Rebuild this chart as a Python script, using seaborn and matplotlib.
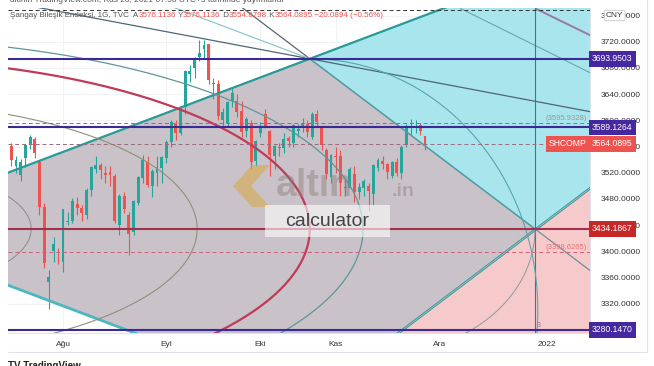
import numpy as np
import pandas as pd
import matplotlib
matplotlib.use("Agg")
import matplotlib.pyplot as plt
import matplotlib.transforms as mtransforms
from matplotlib.lines import Line2D
from matplotlib.patches import Polygon, Rectangle
from matplotlib.offsetbox import TextArea, HPacker, AnchoredOffsetbox
import seaborn as sns

sns.set_theme(style="white", context="paper")
plt.rcParams["font.family"] = ["Liberation Sans", "DejaVu Sans"]

# --- daily candles, 16 Jul 2021 .. 26 Nov 2021 (bar 0 = 2 Aug) ---
bars = list(range(-11, 78))
opens = [3561, 3530, 3516, 3542, 3563, 3571, 3537, 3467, 3353, 3400, 3399,
         3383, 3445, 3446, 3472, 3466, 3456, 3494, 3525, 3532, 3520, 3521,
         3515, 3440, 3484, 3455, 3430, 3474, 3512, 3537, 3499, 3519, 3527,
         3543, 3567, 3595, 3580, 3621, 3671, 3680, 3697, 3709, 3716, 3656,
         3655, 3600, 3596, 3630, 3630, 3614, 3583, 3596, 3538,
         3580, 3610, 3583, 3545, 3560, 3557, 3573, 3566, 3583, 3588, 3595,
         3575, 3610, 3590, 3555, 3513,
         3545, 3545, 3497, 3497, 3518, 3490, 3496, 3500, 3488, 3527, 3538,
         3533, 3515, 3536, 3520, 3562, 3588, 3590, 3593, 3576.11]
highs = [3566, 3546, 3541, 3564, 3577, 3575, 3540, 3474, 3371, 3422, 3405,
         3465, 3460, 3481, 3483, 3470, 3496, 3530, 3545, 3535, 3530, 3530,
         3518, 3487, 3490, 3460, 3478, 3515, 3547, 3545, 3525, 3545, 3545,
         3570, 3600, 3600, 3622, 3677, 3685, 3697, 3722, 3723, 3717, 3665,
         3662, 3619, 3630, 3650, 3640, 3630, 3605, 3600, 3570,
         3597, 3617, 3585, 3562, 3565, 3580, 3576, 3594, 3595, 3603, 3601,
         3612, 3616, 3592, 3558, 3548,
         3560, 3555, 3510, 3528, 3530, 3505, 3510, 3505, 3534, 3542, 3545,
         3535, 3538, 3542, 3562, 3595, 3602, 3600, 3596, 3576.11]
lows = [3531, 3520, 3508, 3528, 3556, 3543, 3456, 3374, 3312, 3383, 3380,
        3368, 3440, 3443, 3455, 3447, 3450, 3485, 3520, 3510, 3505, 3500,
        3443, 3425, 3459, 3395, 3425, 3470, 3505, 3498, 3483, 3500, 3505,
        3535, 3560, 3570, 3578, 3610, 3658, 3665, 3690, 3695, 3655, 3633,
        3600, 3590, 3590, 3620, 3605, 3575, 3575, 3525, 3530,
        3575, 3588, 3515, 3525, 3545, 3550, 3560, 3560, 3575, 3582, 3575,
        3572, 3592, 3555, 3510, 3505,
        3520, 3485, 3485, 3497, 3475, 3480, 3485, 3462, 3470, 3522, 3525,
        3510, 3512, 3515, 3510, 3560, 3578, 3580, 3578, 3554.88]
closes = [3539, 3539, 3537, 3562, 3574, 3550, 3467, 3382, 3361, 3411, 3397,
          3464, 3447, 3477, 3466, 3458, 3494, 3529, 3532, 3524, 3517, 3517,
          3446, 3485, 3465, 3427, 3477, 3514, 3540, 3501, 3522, 3528, 3544,
          3567, 3597, 3581, 3621, 3676, 3675, 3693, 3703, 3715, 3662, 3656,
          3607, 3613, 3628, 3642, 3613, 3582, 3602, 3537, 3568,
          3592, 3591, 3547, 3561, 3558, 3572, 3568, 3593, 3587, 3594, 3582,
          3609, 3597, 3562, 3518, 3547,
          3544, 3505, 3498, 3526, 3491, 3498, 3507, 3492, 3532, 3539, 3533,
          3521, 3537, 3520, 3560, 3589, 3589, 3592, 3584, 3564.09]

month_labels = ["Ağu", "Eyl", "Eki", "Kas", "Ara", "2022"]
month_bars = [0, 22, 42, 58, 80, 103]
price_ticks = [3320, 3360, 3400, 3440, 3480, 3520, 3560, 3600, 3640, 3680, 3720, 3760]

# horizontal levels drawn on the chart
solid_levels = [3693.9503, 3589.1264, 3434.1867, 3280.1470]
solid_colors = ["#3b2a96", "#3b2a96", "#a3304c", "#3b2a96"]
dashed_levels = [3768.0, 3595.9328, 3563.2794, 3398.6265]
dashed_colors = ["#333333", "#9a6a7c", "#9a6a7c", "#d0607a"]

# gann square corners (bar, price)
v_top = (52.5, 3694.0)
v_right = (100.4, 3434.2)
v_bottom = (52.5, 3174.4)
v_left = (-43.4, 3434.2)

legend_parts = [("Şangay Bileşik Endeksi, 1G, TVC  A", "#555555"),
                ("3576.1136", "#ef5350"), (" Y", "#555555"), ("3576.1136", "#ef5350"),
                (" D", "#555555"), ("3554.8798", "#ef5350"), (" K", "#555555"),
                ("3564.0895", "#ef5350"), (" −20.0894 (−0.56%)", "#ef5350")]

GREEN = "#26a69a"
RED = "#ef5350"

fig = plt.figure(figsize=(6.54, 3.66), dpi=100, facecolor="white")
ax = fig.add_axes([8 / 654, 33 / 366, 582 / 654, 325 / 366])
ax.set_xlim(-11.7, 112.1)
ax.set_ylim(3275.3, 3771.5)
ax.set_facecolor("white")

# grid
for b in month_bars:
    ax.axvline(b, color="#eef0f4", lw=0.6, zorder=0)
for p in price_ticks:
    ax.axhline(p, color="#eef0f4", lw=0.6, zorder=0)

# gann fills
big = 300
up1 = (v_right[1] - v_bottom[1]) / (v_right[0] - v_bottom[0])
up2 = (v_top[1] - v_left[1]) / (v_top[0] - v_left[0])
ax.add_patch(Polygon([v_top, v_right, v_bottom, v_left], closed=True,
                     fc="#c9c2c8", ec="none", zorder=1))
ax.add_patch(Polygon([v_top, (v_top[0] + big, v_top[1] + big * up2),
                      (v_right[0] + big, v_right[1] + big * up1), v_right],
                     closed=True, fc="#a8e5ed", ec="none", zorder=1))
ax.add_patch(Polygon([v_bottom, v_right, (v_right[0] + big, v_right[1] + big * up1),
                      (v_right[0] + big, 2000), (v_bottom[0], 2000)],
                     closed=True, fc="#f6caca", ec="none", zorder=1))

# candles
df = pd.DataFrame({"bar": bars, "open": opens, "high": highs, "low": lows, "close": closes})
cols = np.where(df["close"] >= df["open"], GREEN, RED)
ax.vlines(df["bar"], df["low"], df["high"], colors=cols, lw=0.8, zorder=3)
body_low = df[["open", "close"]].min(axis=1)
body_h = (df["close"] - df["open"]).abs().clip(lower=1.0)
ax.bar(df["bar"], body_h, bottom=body_low, width=0.62, color=cols, lw=0, zorder=3)


def ray(p, slope, x0, x1, **kw):
    xs = np.array([x0, x1])
    ax.plot(xs, p[1] + slope * (xs - p[0]), zorder=4, solid_capstyle="butt", **kw)


# gann lines
ray(v_top, up2, -20, 130, color="#2a9a98", lw=1.6)
ray(v_top, -up1, 20, v_top[0], color="#5d6468", lw=0.9)
ray(v_top, -up1, v_top[0], v_right[0], color="#4f9aa2", lw=1.1)
ray(v_right, -up1, v_right[0], 130, color="#6f8f96", lw=0.9)
ray(v_bottom, up1, 40, 130, color="#3a9da0", lw=0.8)
ray((v_bottom[0], v_bottom[1] - 3), up1, 40, 130, color="#3a9da0", lw=0.8)
ray(v_bottom, -up2, -20, v_bottom[0], color="#4db6c0", lw=2.0)
ray(v_top, -up2 / 2, -20, 130, color="#4f6675", lw=0.9)
ray(v_top, -up2, -20, v_top[0], color="#7fc4c8", lw=0.8)
ray((84.5, 3771.0), -3.56, 84.5, 130, color="#6aa8b0", lw=0.8)
ray((100.4, 3771.0), -3.5, 100.4, 130, color="#9a7aa0", lw=1.4)
ax.axvline(v_right[0], color="#2a7ab0", lw=0.8, zorder=4)

# gann arcs: centre, radii, angle span, colour, width
rx0 = v_top[0] - v_left[0]
ry0 = v_top[1] - v_left[1]
full = (0, 2 * np.pi)
arcs = [(v_left, 0.382 * rx0, 0.382 * ry0, full, "#8c8c8c", 0.7),
        (v_left, 0.75 * rx0, 0.75 * ry0, full, "#8f8f80", 0.8),
        (v_left, rx0, ry0, full, "#c03a5a", 1.6),
        (v_left, 1.118 * rx0, 1.118 * ry0, full, "#5f959b", 0.9),
        ((52.5, 3310.0), 48.5, 384.0, (-np.pi / 2, np.pi / 2), "#5aa5b0", 0.8),
        ((67.4, 3434.2), 33.0, 191.0, (-np.pi / 2, 0), "#8a9a9e", 0.7)]
for c, rx, ry, span, col, lw in arcs:
    t = np.linspace(span[0], span[1], 400)
    ax.plot(c[0] + rx * np.cos(t), c[1] + ry * np.sin(t), color=col, lw=lw, zorder=4)

# horizontal levels
for lv, col in zip(solid_levels, solid_colors):
    ax.axhline(lv, color=col, lw=1.5, zorder=5)
for lv, col in zip(dashed_levels, dashed_colors):
    ax.axhline(lv, color=col, lw=0.7, ls=(0, (4, 3)), zorder=5)

trans = mtransforms.blended_transform_factory(ax.transAxes, ax.transData)
for lv, txt, col in [(3595.9328, "(3595.9328)", "#9a9a9a"),
                     (3563.2794, "(3563.2794)", "#9a9a9a"),
                     (3398.6265, "(3398.6265)", "#e57373")]:
    ax.text(1 - 3 / 582, lv + 2, txt, transform=trans, ha="right", va="bottom",
            fontsize=5.5, color=col, zorder=6)
ax.text(100.8, 3284, "3", fontsize=5, color="#8a7fa8", zorder=6)

# axes
ax.yaxis.tick_right()
ax.set_yticks(price_ticks)
ax.set_yticklabels([f"{p:.4f}" for p in price_ticks])
ax.set_xticks(month_bars)
ax.set_xticklabels(month_labels)
ax.tick_params(axis="y", length=0, pad=8, labelsize=6, labelcolor="#333333")
ax.tick_params(axis="x", length=0, pad=5.5, labelsize=6, labelcolor="#333333")
for s in ["left", "top"]:
    ax.spines[s].set_visible(False)
for s in ["right", "bottom"]:
    ax.spines[s].set_color("#e0e3eb")
    ax.spines[s].set_linewidth(0.8)
fig.add_artist(Line2D([8 / 654, 647 / 654], [1 - 352 / 366] * 2, color="#e0e3eb", lw=0.8))
fig.add_artist(Line2D([647 / 654] * 2, [1 - 352 / 366, 1], color="#e0e3eb", lw=0.8))


def tag(value, txt, fc, x=1 + 2 / 582, ha="left"):
    ax.text(x, value, txt, transform=trans, ha=ha, va="center", fontsize=6.2,
            color="white", zorder=8, clip_on=False,
            bbox=dict(boxstyle="square,pad=0.4", fc=fc, ec="none"))


tag(3693.9503, "3693.9503", "#4527a0")
tag(3589.1264, "3589.1264", "#4527a0")
tag(3280.1470, "3280.1470", "#4527a0")
tag(3434.1867, "3434.1867", "#c62828")
tag(3564.0895, "3564.0895", RED)
tag(3564.0895, "SHCOMP", RED, x=1 - 3 / 582, ha="right")
ax.text(1 + 16 / 582, 3760, "CNY", transform=trans, ha="left", va="center", fontsize=6,
        color="#333333", zorder=8, clip_on=False,
        bbox=dict(boxstyle="round,pad=0.2", fc="white", ec="#c8c8c8", lw=0.6))

# legend line
parts = [TextArea(s, textprops=dict(color=c, fontsize=5.8)) for s, c in legend_parts]
box = AnchoredOffsetbox(loc="upper left", child=HPacker(children=parts, sep=0, pad=0),
                        bbox_to_anchor=(10 / 654, 1 - 12 / 366), bbox_transform=fig.transFigure,
                        frameon=False, pad=0, borderpad=0)
box.set_zorder(9)
ax.add_artist(box)

fig.text(10 / 654, 1 - 1 / 366, "altinin TradingView.com, Kas 26, 2021 07:56 UTC+3 tarihinde yayımlandı",
         fontsize=6, color="#555555", va="center")
fig.text(8 / 654, 1 - 366 / 366, "TV TradingView", fontsize=7, color="#222222", va="center",
         weight="bold")

# watermark
fig.add_artist(Polygon([(270 / 654, 1 - 165 / 366), (252 / 654, 1 - 165 / 366),
                        (233 / 654, 1 - 186 / 366), (252 / 654, 1 - 207 / 366),
                        (270 / 654, 1 - 207 / 366), (251 / 654, 1 - 186 / 366)],
                       closed=True, transform=fig.transFigure, fc="#d9a940", ec="none", alpha=0.55,
                       zorder=10))
fig.text(276 / 654, 1 - 186 / 366, "altın", fontsize=27, weight="bold", color="#8a7f7c",
         alpha=0.45, va="center", zorder=10)
fig.text(392 / 654, 1 - 192 / 366, ".in", fontsize=14, weight="bold", color="#8a7f7c",
         alpha=0.45, va="center", zorder=10)
fig.add_artist(Rectangle((265 / 654, 1 - 237 / 366), 125 / 654, 32 / 366,
                         transform=fig.transFigure, fc="white", ec="none", alpha=0.6, zorder=10))
fig.text(327 / 654, 1 - 221 / 366, "calculator", fontsize=14, color="#444444",
         ha="center", va="center", zorder=11)

fig.savefig("out.png", dpi=100)
